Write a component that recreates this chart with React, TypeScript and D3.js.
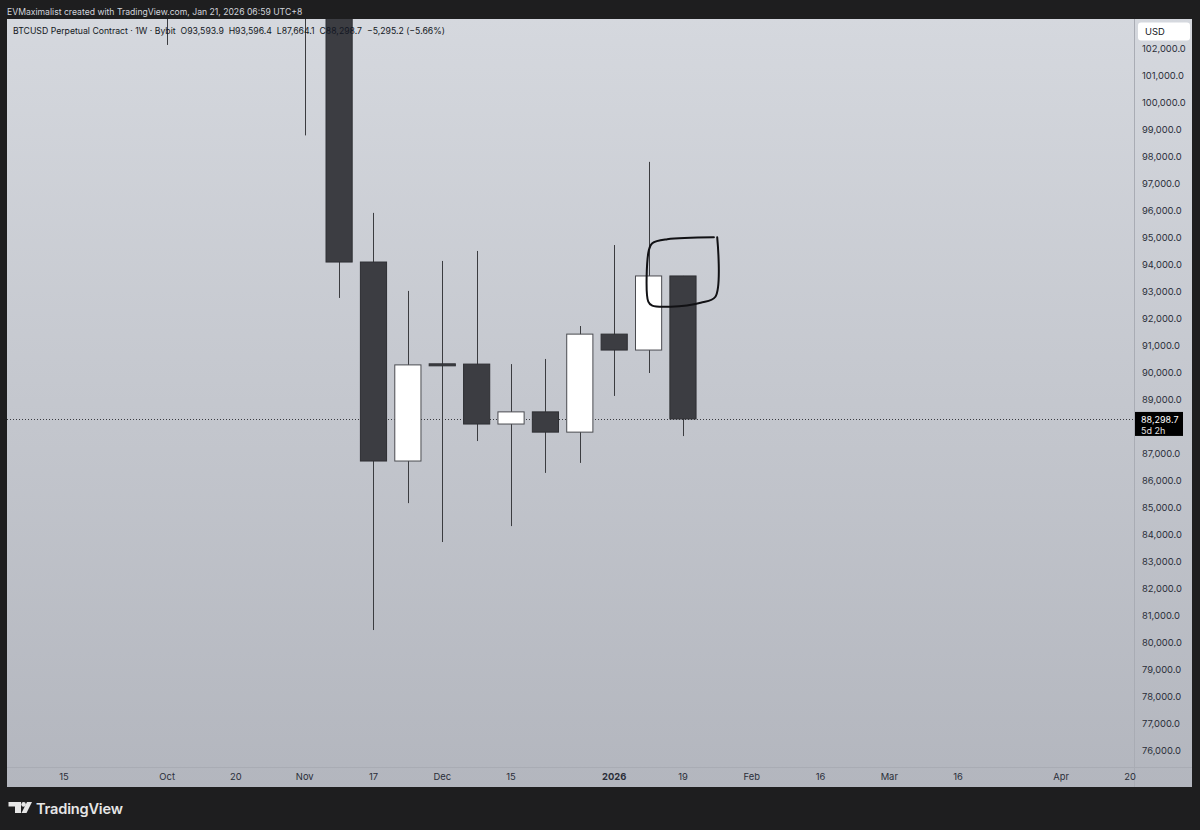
import React from "react";
import * as d3 from "d3";

// ---- Data ----
const weeks = [
  "2025-10-06", "2025-10-13", "2025-10-20", "2025-10-27", "2025-11-03", "2025-11-10",
  "2025-11-17", "2025-11-24", "2025-12-01", "2025-12-08", "2025-12-15", "2025-12-22",
  "2025-12-29", "2026-01-05", "2026-01-12", "2026-01-19",
];
const opens = [123300, 115200, 108700, 114500, 110500, 104700, 94110, 86740, 90340, 90330, 88110, 88560, 87810, 91440, 90850, 93593.9];
const highs = [126200, 115900, 116000, 116400, 110700, 107500, 95930, 93040, 94150, 94520, 90330, 90520, 91740, 94740, 97820, 93596.4];
const lows = [102150, 103600, 106700, 106300, 98800, 92780, 80480, 85180, 83740, 87480, 84330, 86300, 86670, 89150, 90000, 87664.1];
const closes = [115200, 108700, 114500, 110500, 104700, 94110, 86740, 90300, 90320, 88110, 88560, 87810, 91440, 90850, 93593.9, 88298.7];

const priceTicks = d3.range(76000, 102001, 1000);
const timeTickDates = ["2025-09-15", "2025-10-06", "2025-10-20", "2025-11-03", "2025-11-17", "2025-12-01", "2025-12-15", "2026-01-05", "2026-01-19", "2026-02-02", "2026-02-16", "2026-03-02", "2026-03-16", "2026-04-06", "2026-04-20"];
const timeTickLabels = ["15", "Oct", "20", "Nov", "17", "Dec", "15", "2026", "19", "Feb", "16", "Mar", "16", "Apr", "20"];

const lastPrice = 88298.7;
const lastPriceLabel = "88,298.7";
const countdownLabel = "5d 2h";
const headerText = "EVMaximalist created with TradingView.com, Jan 21, 2026 06:59 UTC+8";
const legendText = "BTCUSD Perpetual Contract · 1W · Bybit  O93,593.9  H93,596.4  L87,664.1  C88,298.7  −5,295.2 (−5.66%)";

// hand-drawn annotation: [days from anchor date, price]
const annotationAnchor = "2026-01-12";
const annotationDays = [13.3, 3.8, 0.75, 0.06, -0.06, 0.75, 4.5, 10.6, 13.6, 13.97];
const annotationPrices = [95026, 94952, 94804, 94556, 92641, 92493, 92456, 92604, 92826, 95026];

const W = 1200;
const H = 830;
const panel = { left: 7, right: 1192, top: 19, bottom: 787 };
const axisX = 1134.5;
const timeAxisY = 767.5;

const font = "Inter, 'Noto Sans', sans-serif";

export default function App() {
  const parse = (s: string) => new Date(s + "T00:00:00Z");
  const x = d3.scaleUtc().domain([parse("2025-09-15"), parse("2026-04-20")]).range([64, 1130]);
  const y = d3.scaleLinear().domain([76000, 102000]).range([751, 49]);
  const step = x(parse("2025-09-22")) - x(parse("2025-09-15"));
  const bw = step * 0.79;
  const lastY = y(lastPrice);

  const candles = weeks.map((w, i) => ({
    cx: x(parse(w)),
    o: opens[i], h: highs[i], l: lows[i], c: closes[i],
  }));

  const anchor = parse(annotationAnchor).getTime();
  const annPts: [number, number][] = annotationDays.map((dd, i) => [
    x(new Date(anchor + dd * 86400000)),
    y(annotationPrices[i]),
  ]);
  const annPath = d3.line().curve(d3.curveCatmullRom.alpha(0.5))(annPts) || "";

  // tick labels hidden under the last-price box (as in TradingView)
  const visibleTicks = priceTicks.filter((p) => {
    const ty = y(p);
    return ty < lastY - 12 || ty > lastY + 22;
  });

  return (
    <div style={{ position: "fixed", left: 0, top: 0, width: W, height: H, background: "#1e1e1f" }}>
      <svg width={W} height={H} style={{ display: "block" }}>
        <defs>
          <linearGradient id="bg" x1="0" y1={panel.top} x2="0" y2={panel.bottom} gradientUnits="userSpaceOnUse">
            <stop offset="0" stopColor="#d5d8de" />
            <stop offset="1" stopColor="#b3b6be" />
          </linearGradient>
          <clipPath id="plot">
            <rect x={panel.left} y={panel.top} width={axisX - panel.left} height={timeAxisY - panel.top} />
          </clipPath>
        </defs>
        <rect x={0} y={0} width={W} height={H} fill="#1e1e1f" />
        <text x={7} y={15} fontFamily={font} fontSize={8.65} fill="#d1d4dc">{headerText}</text>
        <rect x={panel.left} y={panel.top} width={panel.right - panel.left} height={panel.bottom - panel.top} fill="url(#bg)" />

        {/* separators */}
        <line x1={axisX} x2={axisX} y1={panel.top} y2={panel.bottom} stroke="#a9acb4" strokeWidth={1} />
        <line x1={panel.left} x2={panel.right} y1={timeAxisY} y2={timeAxisY} stroke="#a9acb4" strokeWidth={1} />

        <g clipPath="url(#plot)">
          {/* last price dotted line */}
          <line x1={panel.left} x2={axisX} y1={Math.round(lastY) + 0.5} y2={Math.round(lastY) + 0.5}
            stroke="#3a3b40" strokeWidth={1} strokeDasharray="1,2" />
          {candles.map((d, i) => {
            const up = d.c >= d.o;
            const top = y(Math.max(d.o, d.c));
            const bot = y(Math.min(d.o, d.c));
            const hgt = Math.max(bot - top, 2);
            const cx = Math.round(d.cx) + 0.5;
            return (
              <g key={i}>
                <line x1={cx} x2={cx} y1={y(d.h)} y2={y(d.l)} stroke="#3b3c40" strokeWidth={1} />
                <rect x={d.cx - bw / 2 + 0.5} y={top} width={bw - 1} height={hgt}
                  fill={up ? "#ffffff" : "#3c3d42"} stroke={up ? "#4a4b50" : "#2e2f33"} strokeWidth={1} />
              </g>
            );
          })}
          <path d={annPath} fill="none" stroke="#111114" strokeWidth={2} strokeLinecap="round" strokeLinejoin="round" />
        </g>

        <text x={13} y={34} fontFamily={font} fontSize={8.7} fill="#131722" style={{ whiteSpace: "pre" }}>{legendText}</text>

        {/* price axis */}
        {visibleTicks.map((p) => (
          <text key={p} x={1142} y={y(p)} dy="0.35em" fontFamily={font} fontSize={9.4} fill="#2a2e39">
            {d3.format(",.1f")(p)}
          </text>
        ))}
        <rect x={1138} y={22.5} width={52} height={18} rx={3} fill="#ffffff" />
        <text x={1145} y={31.5} dy="0.35em" fontFamily={font} fontSize={9.4} fill="#131722">USD</text>

        <rect x={1135} y={lastY - 7} width={48} height={24} fill="#000000" />
        <text x={1141} y={lastY + 0.5} dy="0.35em" fontFamily={font} fontSize={9} fill="#ffffff">{lastPriceLabel}</text>
        <text x={1141} y={lastY + 11.5} dy="0.35em" fontFamily={font} fontSize={9} fill="#e0e0e0">{countdownLabel}</text>

        {/* time axis */}
        {timeTickDates.map((t, i) => (
          <text key={t} x={x(parse(t))} y={777} dy="0.35em" textAnchor="middle" fontFamily={font} fontSize={9.4}
            fontWeight={timeTickLabels[i] === "2026" ? 700 : 400} fill="#2a2e39">
            {timeTickLabels[i]}
          </text>
        ))}

        {/* TradingView logo */}
        <g fill="#e6e6e6">
          <path d="M8.5 802 H21 V813 H15 V806.5 H8.5 Z" />
          <circle cx={23.6} cy={804.4} r={2.3} />
          <path d="M27 802 H32 L26.5 813 H21.5 Z" />
        </g>
        <text x={36} y={814} fontFamily={font} fontSize={14.6} fontWeight={600} fill="#e6e6e6" letterSpacing={-0.2}>TradingView</text>
      </svg>
    </div>
  );
}
